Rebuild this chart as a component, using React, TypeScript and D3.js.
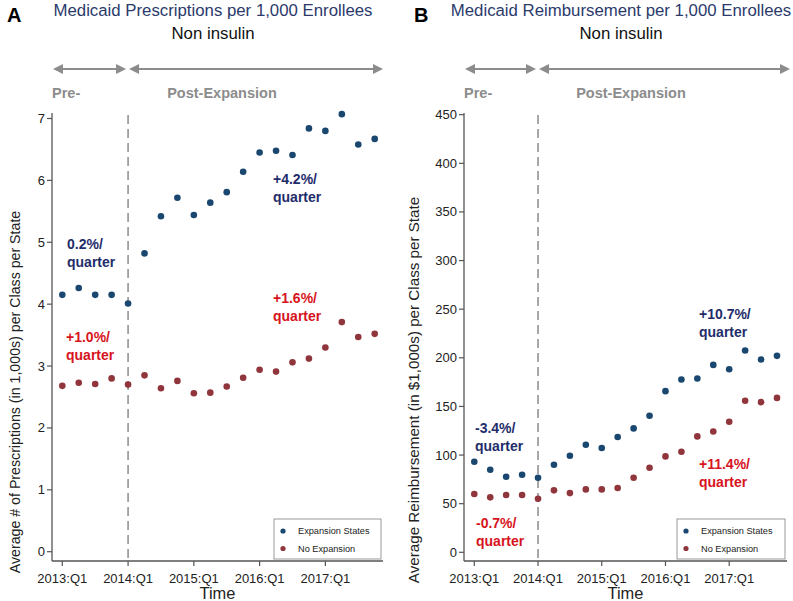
import React from "react";
import * as d3 from "d3";

const quarters = d3.range(20);
const xTickIdx = [0, 4, 8, 12, 16];
const xTickLabels = ["2013:Q1", "2014:Q1", "2015:Q1", "2016:Q1", "2017:Q1"];

const rxExpansion = [4.15, 4.26, 4.15, 4.15, 4.01, 4.82, 5.42, 5.72, 5.44, 5.64, 5.81, 6.14, 6.45, 6.48, 6.41, 6.84, 6.8, 7.07, 6.58, 6.67];
const rxNoExpansion = [2.68, 2.73, 2.71, 2.8, 2.7, 2.85, 2.64, 2.76, 2.56, 2.57, 2.67, 2.81, 2.94, 2.91, 3.06, 3.12, 3.3, 3.71, 3.47, 3.52];
const rxTicks = [0, 1, 2, 3, 4, 5, 6, 7];

const reExpansion = [93.1, 84.9, 77.7, 79.7, 76.6, 90.0, 99.3, 110.6, 107.2, 118.5, 127.4, 140.4, 165.7, 177.7, 178.8, 192.7, 188.3, 207.5, 198.3, 202.0];
const reNoExpansion = [59.9, 56.5, 58.9, 58.9, 55.0, 63.7, 60.9, 64.7, 64.7, 66.1, 76.6, 86.9, 98.6, 103.4, 119.2, 124.3, 134.2, 155.8, 154.4, 158.8];
const reTicks = [0, 50, 100, 150, 200, 250, 300, 350, 400, 450];

const legendLabels = ["Expansion States", "No Expansion"];

const NAVY = "#1a476f";
const MAROON = "#90353b";
const TXT_BLUE = "#1f2d6b";
const TXT_RED = "#d7141d";
const GRAY = "#8c8c8c";
const FONT = "'Liberation Sans', Arial, Helvetica, sans-serif";

type Ann = { text: string[]; x: number; y: number; color: string };

type PanelProps = {
  letter: string;
  title: string;
  yLabel: string;
  yLabelSize: number;
  yLabelY: number;
  exp: number[];
  noexp: number[];
  ticks: number[];
  yMax: number;
  axisX: number;
  xRange: [number, number];
  yRange: [number, number];
  axisRight: number;
  arrowEnd: number;
  titleX: number;
  letterX: number;
  yLabelX: number;
  postX: number;
  anns: Ann[];
  legendX: number;
  legendW: number;
};

function Panel(p: PanelProps) {
  const x = d3.scaleLinear().domain([0, 19]).range(p.xRange);
  const y = d3.scaleLinear().domain([0, p.yMax]).range(p.yRange);
  const axisY = 561;
  const divX = x(4);
  const arrowY = 69;
  const ah = 9;
  const arrow = (x1: number, x2: number) => (
    <g>
      <line x1={x1 + ah} x2={x2 - ah} y1={arrowY} y2={arrowY} stroke={GRAY} strokeWidth={2.2} />
      <path d={`M${x1},${arrowY} L${x1 + ah + 1},${arrowY - 5} L${x1 + ah + 1},${arrowY + 5} Z`} fill={GRAY} />
      <path d={`M${x2},${arrowY} L${x2 - ah - 1},${arrowY - 5} L${x2 - ah - 1},${arrowY + 5} Z`} fill={GRAY} />
    </g>
  );
  return (
    <g fontFamily={FONT}>
      <text x={p.letterX} y={22} fontSize={20} fontWeight="bold" fill="#000">{p.letter}</text>
      <text x={p.titleX} y={16} fontSize={16.8} fill="#2b3a6b" textAnchor="middle">{p.title}</text>
      <text x={p.titleX} y={39} fontSize={16.8} fill="#111" textAnchor="middle">Non insulin</text>
      {arrow(p.axisX + 1, divX - 2)}
      {arrow(divX + 1, p.arrowEnd)}
      <text x={p.axisX} y={98} fontSize={14.5} fontWeight="bold" fill={GRAY}>Pre-</text>
      <text x={p.postX} y={98} fontSize={14.5} fontWeight="bold" fill={GRAY} textAnchor="middle">Post-Expansion</text>
      {/* axes */}
      <line x1={p.axisX} x2={p.axisX} y1={113} y2={axisY} stroke="#555" strokeWidth={1.3} />
      <line x1={p.axisX} x2={p.axisRight} y1={axisY} y2={axisY} stroke="#555" strokeWidth={1.3} />
      {p.ticks.map((t) => (
        <g key={t}>
          <line x1={p.axisX - 5} x2={p.axisX} y1={y(t)} y2={y(t)} stroke="#555" strokeWidth={1.2} />
          <text x={p.axisX - 7} y={y(t)} dy="0.35em" fontSize={13} textAnchor="end" fill="#222">{t}</text>
        </g>
      ))}
      {xTickIdx.map((q, i) => (
        <g key={q}>
          <line x1={x(q)} x2={x(q)} y1={axisY} y2={axisY + 5} stroke="#555" strokeWidth={1.2} />
          <text x={x(q)} y={582.5} fontSize={13} textAnchor="middle" fill="#222">{xTickLabels[i]}</text>
        </g>
      ))}
      <text x={(p.axisX + p.axisRight) / 2} y={598.5} fontSize={16.4} textAnchor="middle" fill="#222">Time</text>
      <text transform={`translate(${p.yLabelX},${p.yLabelY}) rotate(-90)`} fontSize={p.yLabelSize} textAnchor="middle" fill="#222">{p.yLabel}</text>
      <line x1={divX} x2={divX} y1={115} y2={axisY} stroke={GRAY} strokeWidth={1.5} strokeDasharray="9,5" />
      {quarters.map((q) => (
        <circle key={"e" + q} cx={x(q)} cy={y(p.exp[q])} r={3.3} fill={NAVY} />
      ))}
      {quarters.map((q) => (
        <circle key={"n" + q} cx={x(q)} cy={y(p.noexp[q])} r={3.3} fill={MAROON} />
      ))}
      {p.anns.map((a, i) => (
        <text key={i} x={a.x} y={a.y} fontSize={14} fontWeight="bold" fill={a.color}>
          {a.text.map((t, j) => (
            <tspan key={j} x={a.x} dy={j === 0 ? 0 : 17.5}>{t}</tspan>
          ))}
        </text>
      ))}
      <rect x={p.legendX} y={519} width={p.legendW} height={40} fill="#fff" stroke="#999" strokeWidth={1} />
      {legendLabels.map((l, i) => (
        <g key={l}>
          <circle cx={p.legendX + 9} cy={531 + i * 17.5} r={2.6} fill={i === 0 ? NAVY : MAROON} />
          <text x={p.legendX + 24} y={531 + i * 17.5} dy="0.35em" fontSize={9.2} fill="#222">{l}</text>
        </g>
      ))}
    </g>
  );
}

export default function App() {
  return (
    <svg width={793} height={601} style={{ display: "block", position: "absolute", left: 0, top: 0 }}>
      <rect width={793} height={601} fill="#fff" />
      <Panel
        letter="A"
        title="Medicaid Prescriptions per 1,000 Enrollees"
        yLabel="Average # of Prescriptions (in 1,000s) per Class per State"
        yLabelSize={14.2}
        yLabelY={392}
        exp={rxExpansion}
        noexp={rxNoExpansion}
        ticks={rxTicks}
        yMax={7}
        axisX={52}
        xRange={[62.3, 374.7]}
        yRange={[551.7, 118.5]}
        axisRight={383}
        arrowEnd={383}
        titleX={213}
        letterX={7}
        yLabelX={20}
        postX={222}
        anns={[
          { text: ["0.2%/", "quarter"], x: 67, y: 249, color: TXT_BLUE },
          { text: ["+4.2%/", "quarter"], x: 273, y: 184, color: TXT_BLUE },
          { text: ["+1.6%/", "quarter"], x: 273, y: 303, color: TXT_RED },
          { text: ["+1.0%/", "quarter"], x: 66, y: 342, color: TXT_RED },
        ]}
        legendX={274}
        legendW={107}
      />
      <Panel
        letter="B"
        title="Medicaid Reimbursement per 1,000 Enrollees"
        yLabel="Average Reimbursement (in $1,000s) per Class per State"
        yLabelSize={15.2}
        yLabelY={390}
        exp={reExpansion}
        noexp={reNoExpansion}
        ticks={reTicks}
        yMax={450}
        axisX={464}
        xRange={[474.3, 777]}
        yRange={[552.3, 114.7]}
        axisRight={787}
        arrowEnd={790}
        titleX={621}
        letterX={414}
        yLabelX={419}
        postX={631}
        anns={[
          { text: ["-3.4%/", "quarter"], x: 475, y: 433, color: TXT_BLUE },
          { text: ["+10.7%/", "quarter"], x: 699, y: 319, color: TXT_BLUE },
          { text: ["+11.4%/", "quarter"], x: 699, y: 469, color: TXT_RED },
          { text: ["-0.7%/", "quarter"], x: 476, y: 528, color: TXT_RED },
        ]}
        legendX={677}
        legendW={108}
      />
    </svg>
  );
}
